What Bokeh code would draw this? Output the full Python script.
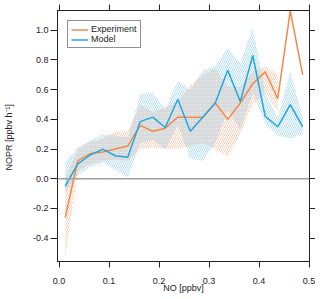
from bokeh.plotting import figure
from bokeh.models import (Range1d, LinearAxis, FixedTicker, PrintfTickFormatter,
                          Span, Legend, LegendItem)
from bokeh.embed import file_html
from bokeh.resources import INLINE

# ---- data ----
no_ppbv = [0.0125, 0.0375, 0.0625, 0.0875, 0.1125, 0.1375, 0.1625, 0.1875, 0.2125, 0.2375,
           0.2625, 0.2875, 0.3125, 0.3375, 0.3625, 0.3875, 0.4125, 0.4375, 0.4625, 0.4875]
experiment = [-0.26, 0.12, 0.17, 0.18, 0.20, 0.22, 0.36, 0.32, 0.34, 0.415,
              0.415, 0.415, 0.51, 0.40, 0.51, 0.64, 0.72, 0.54, 1.13, 0.70]
model = [-0.05, 0.10, 0.16, 0.20, 0.155, 0.145, 0.385, 0.415, 0.345, 0.535,
         0.32, 0.415, 0.51, 0.73, 0.52, 0.83, 0.42, 0.35, 0.50, 0.35]
model_lo = [-0.09, 0.02, 0.08, 0.11, 0.06, 0.01, 0.24, 0.26, 0.20, 0.36,
            0.14, 0.12, 0.24, 0.46, 0.33, 0.58, 0.37, 0.29, 0.27, 0.30]
model_hi = [0.11, 0.21, 0.26, 0.30, 0.29, 0.28, 0.57, 0.58, 0.47, 0.66,
            0.60, 0.73, 0.76, 0.88, 0.78, 1.02, 0.58, 0.41, 0.72, 0.41]
exp_band_x = no_ppbv[:18]
exp_lo = [-0.53, 0.05, 0.10, 0.12, 0.13, 0.12, 0.20, 0.21, 0.20, 0.20,
          0.22, 0.24, 0.20, 0.15, 0.30, 0.50, 0.58, 0.45]
exp_hi = [0.00, 0.20, 0.25, 0.27, 0.32, 0.32, 0.50, 0.45, 0.48, 0.52,
          0.63, 0.70, 0.74, 0.62, 0.62, 0.72, 0.76, 0.70]
x_ticks = [0.0, 0.1, 0.2, 0.3, 0.4, 0.5]
y_ticks = [-0.4, -0.2, 0.0, 0.2, 0.4, 0.6, 0.8, 1.0]

ORANGE = "#F4894A"
BLUE = "#22A7E3"
FONT = "Liberation Sans"

p = figure(frame_width=252, frame_height=251, output_backend="svg", toolbar_location=None,
           x_range=Range1d(-0.003, 0.501), y_range=Range1d(-0.557, 1.133),
           min_border_left=53, min_border_top=10, min_border_bottom=0, min_border_right=0,
           x_axis_label="NO [ppbv]", y_axis_label="NOPR  [ppbv h\u207b\u00b9]")
p.background_fill_color = "white"
p.border_fill_color = "white"
p.outline_line_color = "#222222"
p.xgrid.visible = False
p.ygrid.visible = False

# bands
p.varea(x=exp_band_x, y1=exp_lo, y2=exp_hi, fill_alpha=0,
        hatch_pattern="/", hatch_color="#F7A983", hatch_alpha=0.55,
        hatch_scale=4, hatch_weight=1)
p.varea(x=no_ppbv, y1=model_lo, y2=model_hi, fill_alpha=0,
        hatch_pattern="\\", hatch_color="#7CC6EA", hatch_alpha=0.55,
        hatch_scale=4, hatch_weight=1)

p.add_layout(Span(location=0, dimension="width", line_color="#A0A0A0", line_width=1.5))

r_exp = p.line(no_ppbv, experiment, line_color=ORANGE, line_width=1.5)
r_mod = p.line(no_ppbv, model, line_color=BLUE, line_width=1.5)

legend = Legend(items=[LegendItem(label="Experiment", renderers=[r_exp]),
                       LegendItem(label="Model", renderers=[r_mod])],
                location="top_left")
legend.margin = 10
legend.padding = 3
legend.spacing = 0
legend.glyph_width = 17
legend.glyph_height = 9
legend.label_height = 9
legend.label_standoff = 3
legend.label_text_font = FONT
legend.label_text_font_size = "9px"
legend.label_text_color = "#222222"
legend.border_line_color = "#222222"
legend.border_line_width = 1
legend.background_fill_alpha = 1
p.add_layout(legend)

def style(ax, labels=True):
    ax.axis_line_color = "#222222"
    ax.major_tick_line_color = "#222222"
    ax.minor_tick_line_color = None
    ax.major_tick_in = 0
    ax.major_tick_out = 6
    ax.major_label_text_font = FONT
    ax.major_label_text_font_size = "9px"
    ax.major_label_text_color = "#222222" if labels else None
    ax.axis_label_text_font = FONT
    ax.axis_label_text_font_size = "9px"
    ax.axis_label_text_font_style = "normal"
    ax.axis_label_text_color = "#222222"

xa = p.xaxis[0]
xa.ticker = FixedTicker(ticks=x_ticks)
xa.formatter = PrintfTickFormatter(format="%.1f")
style(xa)
xa.major_label_standoff = 10
xa.axis_label_standoff = -4

ya = p.yaxis[0]
ya.ticker = FixedTicker(ticks=y_ticks)
ya.formatter = PrintfTickFormatter(format="%.1f")
style(ya)
ya.major_tick_out = 7
ya.major_label_standoff = 2
ya.axis_label_standoff = 16

top = LinearAxis(ticker=FixedTicker(ticks=x_ticks))
style(top, labels=False)
top.major_label_standoff = 0
p.add_layout(top, "above")

right = LinearAxis(ticker=FixedTicker(ticks=y_ticks))
style(right, labels=False)
right.major_label_standoff = 0
p.add_layout(right, "right")

open("out.html", "w").write(file_html(p, INLINE))
